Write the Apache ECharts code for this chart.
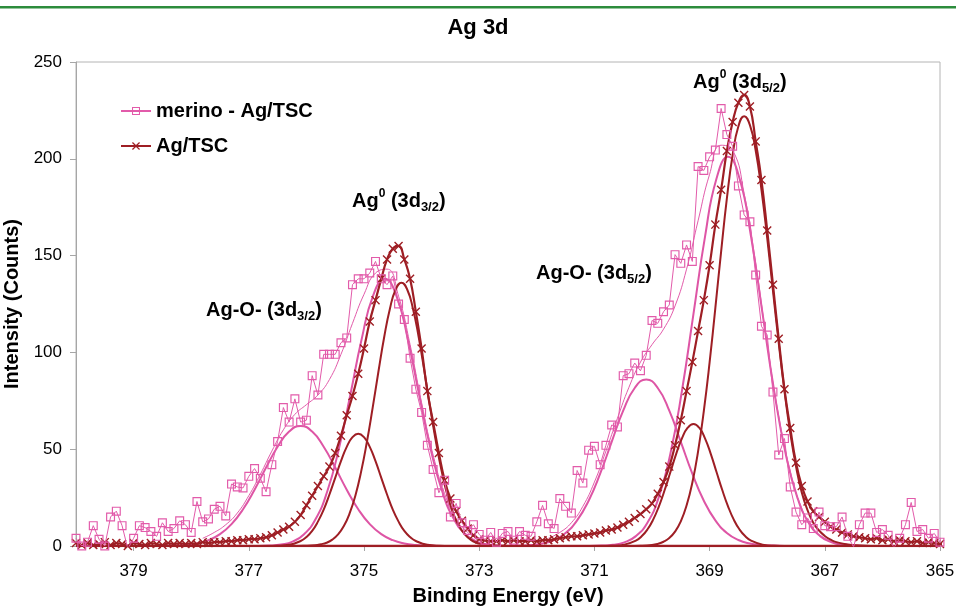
<!DOCTYPE html>
<html>
<head>
<meta charset="utf-8">
<script src="https://cdn.jsdelivr.net/npm/echarts@6/dist/echarts.min.js"></script>
<style>
  html, body { margin: 0; padding: 0; background: #ffffff; }
  #chart { width: 956px; height: 609px; }
</style>
</head>
<body>
<div id="chart"></div>
<script>
// Ag 3d XPS spectra: raw scans of two samples plus their fitted peak components.

// Binding energy grid of the raw scans (eV)
const energy = [
  380.0, 379.9, 379.8, 379.7, 379.6, 379.5, 379.4, 379.3, 379.2, 379.1,
  379.0, 378.9, 378.8, 378.7, 378.6, 378.5, 378.4, 378.3, 378.2, 378.1,
  378.0, 377.9, 377.8, 377.7, 377.6, 377.5, 377.4, 377.3, 377.2, 377.1,
  377.0, 376.9, 376.8, 376.7, 376.6, 376.5, 376.4, 376.3, 376.2, 376.1,
  376.0, 375.9, 375.8, 375.7, 375.6, 375.5, 375.4, 375.3, 375.2, 375.1,
  375.0, 374.9, 374.8, 374.7, 374.6, 374.5, 374.4, 374.3, 374.2, 374.1,
  374.0, 373.9, 373.8, 373.7, 373.6, 373.5, 373.4, 373.3, 373.2, 373.1,
  373.0, 372.9, 372.8, 372.7, 372.6, 372.5, 372.4, 372.3, 372.2, 372.1,
  372.0, 371.9, 371.8, 371.7, 371.6, 371.5, 371.4, 371.3, 371.2, 371.1,
  371.0, 370.9, 370.8, 370.7, 370.6, 370.5, 370.4, 370.3, 370.2, 370.1,
  370.0, 369.9, 369.8, 369.7, 369.6, 369.5, 369.4, 369.3, 369.2, 369.1,
  369.0, 368.9, 368.8, 368.7, 368.6, 368.5, 368.4, 368.3, 368.2, 368.1,
  368.0, 367.9, 367.8, 367.7, 367.6, 367.5, 367.4, 367.3, 367.2, 367.1,
  367.0, 366.9, 366.8, 366.7, 366.6, 366.5, 366.4, 366.3, 366.2, 366.1,
  366.0, 365.9, 365.8, 365.7, 365.6, 365.5, 365.4, 365.3, 365.2, 365.1,
  365.0, 364.9
];

// Raw counts, merino - Ag/TSC
const merinoCounts = [
  4, 0, 2, 10.5, 3.5, 0, 15, 18, 10.5, -1.5,
  4, 10.5, 9.5, 7.5, 5, 12, 7.5, 9, 13, 11,
  7, 23, 12.5, 14, 19, 20.5, 15.5, 32, 30.5, 30,
  36, 40, 35, 28, 42, 54, 71.5, 64, 76, 64,
  65, 88, 78, 99, 99, 99, 105, 107.5, 135, 138,
  138, 141, 147, 138, 135, 139.5, 125, 117, 97, 81,
  69, 52, 39.5, 27.5, 34, 15, 22, 12, 8, 11,
  6, 3, 7, 2, 6.5, 7.5, 3, 7.5, 5.5, 5,
  12.5, 21, 11.5, 9, 24.5, 20.5, 17, 39, 32.5, 49.5,
  51.5, 42, 52, 62.5, 61.5, 88, 89, 94.5, 90.5, 98.5,
  116.5, 115, 121, 124.5, 150.5, 146, 155.5, 147, 196, 194,
  201, 204.5, 226, 212.5, 206.5, 186, 171, 167.5, 140, 113.5,
  109, 79.5, 47, 55.5, 30.5, 17.5, 11, 14.5, 9, 17.5,
  10.5, 10, 10, 15, 5, -0.5, 11, 17, 17, 7,
  8.5, 5.5, -1, 4, 11, 22.5, 7.5, 8.5, 4, 6.5,
  2, 12
];

// Raw counts, Ag/TSC
const agTscCounts = [
  1.5, 0.5, 1.5, 0.5, 1, 2, 0.5, 1.5, 1, 0,
  1.5, 1, 0.5, 1.5, 1, 0.5, 1.5, 1, 1.5, 1,
  1.5, 1, 2, 1.5, 2, 2, 2.5, 2.5, 3, 3,
  3.5, 3.5, 4, 4.5, 5.5, 7, 8.5, 10, 12.5, 16,
  21, 26, 31, 36, 41, 48, 57, 67.5, 77.5, 89,
  102, 116, 127, 138, 148, 153.5, 155, 148, 138, 121,
  102, 80, 64, 48, 34, 24.5, 18, 13, 9, 5.5,
  3.5, 3, 2.5, 2.5, 3, 2.5, 3, 2.5, 2.5, 3,
  2.5, 3, 3, 3.5, 4, 4.5, 5, 5, 5.5, 6,
  6.5, 7, 8, 8.5, 9.5, 11, 12.5, 14.5, 16.5, 19,
  22, 27, 33, 41, 52, 65, 80, 95, 111, 127,
  145, 166, 184, 204, 219, 229, 233, 227, 209, 189,
  163, 135, 107, 81, 61, 43, 31, 23, 18, 15,
  12.5, 10, 8.5, 7, 6, 5, 4.5, 4, 3.5, 4,
  3, 3.5, 2.5, 3, 2.5, 2, 2.5, 1.5, 2, 1.5,
  1, 1.5
];

// Fitted components, merino - Ag/TSC  ([eV, counts])
const merinoAgO32 = [
  [378.5, 0], [378.3, 0.2], [378.1, 0.5], [377.9, 1.3], [377.7, 3], [377.5, 6.1],
  [377.3, 11.3], [377.1, 19], [376.9, 29.1], [376.7, 40.5], [376.5, 51.3], [376.3, 59.1],
  [376.1, 62], [375.9, 59.1], [375.7, 51.3], [375.5, 40.5], [375.3, 29.1], [375.1, 19],
  [374.9, 11.3], [374.7, 6.1], [374.5, 3], [374.3, 1.3], [374.1, 0.5], [373.9, 0.2], [373.7, 0]
];
const merinoAg032 = [
  [376.84, 0], [376.64, 0.2], [376.44, 0.8], [376.24, 2.3], [376.04, 6.1], [375.84, 13.9],
  [375.64, 28], [375.44, 49.7], [375.24, 77.7], [375.04, 106.9], [374.84, 129.5], [374.64, 138],
  [374.44, 129.5], [374.24, 106.9], [374.04, 77.7], [373.84, 49.7], [373.64, 28], [373.44, 13.9],
  [373.24, 6.1], [373.04, 2.3], [372.84, 0.8], [372.64, 0.2], [372.44, 0]
];
const merinoAgO52 = [
  [372.5, 0], [372.3, 0.2], [372.1, 0.5], [371.9, 1.3], [371.7, 3.1], [371.5, 6.7],
  [371.3, 13.2], [371.1, 23.4], [370.9, 37.4], [370.7, 53.8], [370.5, 69.9], [370.3, 81.6],
  [370.1, 86], [369.9, 81.6], [369.7, 69.9], [369.5, 53.8], [369.3, 37.4], [369.1, 23.4],
  [368.9, 13.2], [368.7, 6.7], [368.5, 3.1], [368.3, 1.3], [368.1, 0.5], [367.9, 0.2], [367.7, 0]
];
const merinoAg052 = [
  [371.08, 0], [370.88, 0.2], [370.68, 0.6], [370.48, 1.9], [370.28, 5.1], [370.08, 12],
  [369.88, 25.4], [369.68, 47.8], [369.48, 80.2], [369.28, 119.9], [369.08, 159.7], [368.88, 189.8],
  [368.68, 201], [368.48, 189.8], [368.28, 159.7], [368.08, 119.9], [367.88, 80.2], [367.68, 47.8],
  [367.48, 25.4], [367.28, 12], [367.08, 5.1], [366.88, 1.9], [366.68, 0.6], [366.48, 0.2], [366.28, 0]
];
const merinoEnvelope32 = [
  [377.8, 4], [377.6, 7], [377.4, 11], [377.2, 17], [377.0, 26], [376.8, 37], [376.6, 49],
  [376.4, 60], [376.2, 68], [376.0, 73], [375.8, 78], [375.6, 86], [375.4, 99], [375.2, 115],
  [375.0, 130], [374.8, 141], [374.6, 143], [374.4, 129], [374.2, 104], [374.0, 74],
  [373.8, 47], [373.6, 27], [373.4, 14], [373.2, 7], [373.0, 4], [372.8, 2.5]
];
const merinoEnvelope52 = [
  [371.8, 4], [371.6, 7], [371.4, 12], [371.2, 20.5], [371.0, 33], [370.8, 49], [370.6, 66],
  [370.4, 82], [370.2, 95], [370.0, 104], [369.8, 112], [369.6, 124], [369.4, 143], [369.2, 168],
  [369.0, 192], [368.8, 207], [368.6, 204.5], [368.4, 182], [368.2, 146], [368.0, 104],
  [367.8, 67], [367.6, 38.5], [367.4, 19.5], [367.2, 9], [367.0, 4], [366.8, 2], [366.6, 1]
];

// Fitted components, Ag/TSC  ([eV, counts])
const agTscShoulder32 = [
  [376.7, 0], [376.5, 0.1], [376.3, 0.6], [376.1, 2.6], [376.0, 4.6], [375.9, 7.8],
  [375.8, 12.6], [375.7, 18.8], [375.6, 26.6], [375.5, 35.2], [375.4, 43.8], [375.3, 51.2],
  [375.2, 56.2], [375.1, 58], [375.0, 56.2], [374.9, 51.2], [374.8, 43.8], [374.7, 35.2],
  [374.6, 26.6], [374.5, 18.8], [374.4, 12.6], [374.3, 7.8], [374.2, 4.6], [374.1, 2.6],
  [373.9, 0.6], [373.7, 0.1], [373.5, 0]
];
const agTscMain32 = [
  [376.25, 0], [376.05, 0.1], [375.85, 0.4], [375.75, 0.9], [375.65, 1.7], [375.55, 3.3],
  [375.45, 6], [375.35, 10.3], [375.25, 16.8], [375.15, 26], [375.05, 38.4], [374.95, 53.7],
  [374.85, 71.3], [374.75, 90], [374.65, 107.8], [374.55, 122.6], [374.45, 132.5], [374.35, 136],
  [374.25, 132.5], [374.15, 122.6], [374.05, 107.8], [373.95, 90], [373.85, 71.3], [373.75, 53.7],
  [373.65, 38.4], [373.55, 26], [373.45, 16.8], [373.35, 10.3], [373.25, 6], [373.15, 3.3],
  [373.05, 1.7], [372.95, 0.9], [372.85, 0.4], [372.65, 0.1], [372.45, 0]
];
const agTscShoulder52 = [
  [370.88, 0], [370.68, 0.1], [370.48, 0.7], [370.28, 2.8], [370.18, 5], [370.08, 8.5],
  [369.98, 13.6], [369.88, 20.5], [369.78, 28.9], [369.68, 38.2], [369.58, 47.6], [369.48, 55.6],
  [369.38, 61.1], [369.28, 63], [369.18, 61.1], [369.08, 55.6], [368.98, 47.6], [368.88, 38.2],
  [368.78, 28.9], [368.68, 20.5], [368.58, 13.6], [368.48, 8.5], [368.38, 5], [368.28, 2.8],
  [368.08, 0.7], [367.88, 0.1], [367.68, 0]
];
const agTscMain52 = [
  [370.4, 0], [370.2, 0.1], [370.0, 0.5], [369.9, 1.1], [369.8, 2.2], [369.7, 4.1],
  [369.6, 7.4], [369.5, 12.7], [369.4, 20.9], [369.3, 32.7], [369.2, 48.9], [369.1, 69.8],
  [369.0, 94.8], [368.9, 123], [368.8, 152.1], [368.7, 179.5], [368.6, 202], [368.5, 216.8],
  [368.4, 222], [368.3, 217.4], [368.2, 204.3], [368.1, 184.1], [368.0, 159.1], [367.9, 131.9],
  [367.8, 104.9], [367.7, 80], [367.6, 58.5], [367.5, 41.1], [367.4, 27.7], [367.3, 18.5],
  [367.2, 12], [367.1, 8], [367.0, 5.2], [366.9, 3.3], [366.8, 2], [366.6, 0.8], [366.4, 0.3], [366.2, 0]
];
const zeroLine = [[380, 0], [365, 0]];

// Axis ticks and text
const energyTicks = [365, 367, 369, 371, 373, 375, 377, 379];
const seriesNames = ['merino - Ag/TSC', 'Ag/TSC'];
const peakLabels = [
  '{m|Ag}{sup|0}{m| (3d}{sub|5/2}{m|)}',
  '{m|Ag}{sup|0}{m| (3d}{sub|3/2}{m|)}',
  '{m|Ag-O- (3d}{sub|3/2}{m|)}',
  '{m|Ag-O- (3d}{sub|5/2}{m|)}'
];

// ---- styling ----
const FONT = '"Liberation Sans", Arial, Helvetica, sans-serif';
const PINK = '#E25BAA';
const PINK_FIT = '#DE55A5';
const RED = '#9E1E24';
const AXIS_GRAY = '#A6A6A6';
const GREEN = '#2C8C3C';

const SQUARE = 'path://M0,0H10V10H0ZM1.3,1.3V8.7H8.7V1.3Z';
const CROSS = 'path://M0,1.1L1.1,0L5,3.9L8.9,0L10,1.1L6.1,5L10,8.9L8.9,10L5,6.1L1.1,10L0,8.9L3.9,5Z';

const pairs = (xs, ys) => xs.map((x, i) => [x, ys[i]]);

function fitSeries(name, data, color, width) {
  return {
    type: 'line', name: name, data: data, smooth: true, symbol: 'none',
    silent: true, z: 2,
    lineStyle: { color: color, width: width },
    itemStyle: { color: color }
  };
}

const rich = {
  m:   { fontSize: 20, fontWeight: 'bold', fontFamily: FONT, lineHeight: 26, color: '#000' },
  sup: { fontSize: 12, fontWeight: 'bold', fontFamily: FONT, lineHeight: 12, verticalAlign: 'top', color: '#000' },
  sub: { fontSize: 13, fontWeight: 'bold', fontFamily: FONT, lineHeight: 13, verticalAlign: 'bottom', color: '#000' }
};
const labelPlaces = [[693, 69], [352, 188], [206, 300], [536, 263]];

const chart = echarts.init(document.getElementById('chart'), null, { renderer: 'canvas' });

chart.setOption({
  animation: false,
  backgroundColor: '#ffffff',
  title: {
    text: 'Ag 3d', left: 'center', top: 12,
    textStyle: { fontFamily: FONT, fontSize: 22, fontWeight: 'bold', color: '#000' }
  },
  legend: {
    data: seriesNames, orient: 'vertical', left: 115, top: 96,
    itemWidth: 30, itemHeight: 10, itemGap: 15,
    textStyle: { fontFamily: FONT, fontSize: 20, fontWeight: 'bold', color: '#000' }
  },
  grid: {
    left: 76, right: 16, top: 62, bottom: 63,
    show: true, borderColor: '#B4B4B4', borderWidth: 1,
    outerBoundsMode: 'none'
  },
  xAxis: {
    type: 'value', min: 365, max: 380, inverse: true,
    name: 'Binding Energy (eV)', nameLocation: 'middle', nameGap: 40,
    nameTextStyle: { fontFamily: FONT, fontSize: 20, fontWeight: 'bold', color: '#000' },
    axisLine: { show: true, onZero: false, lineStyle: { color: AXIS_GRAY, width: 1 } },
    axisTick: { show: true, inside: false, length: 5, customValues: energyTicks, lineStyle: { color: AXIS_GRAY } },
    axisLabel: { customValues: energyTicks, margin: 17, fontFamily: FONT, fontSize: 17, color: '#000' },
    splitLine: { show: false }
  },
  yAxis: {
    type: 'value', min: 0, max: 250, interval: 50,
    name: 'Intensity (Counts)', nameLocation: 'middle', nameGap: 44,
    nameTextStyle: { fontFamily: FONT, fontSize: 20, fontWeight: 'bold', color: '#000' },
    axisLine: { show: true, lineStyle: { color: AXIS_GRAY, width: 1 } },
    axisTick: { show: true, inside: false, length: 6, lineStyle: { color: AXIS_GRAY } },
    axisLabel: { margin: 14, fontFamily: FONT, fontSize: 17, color: '#000' },
    splitLine: { show: false }
  },
  graphic: [
    { type: 'rect', shape: { x: 0, y: 6, width: 956, height: 2.5 }, style: { fill: GREEN }, silent: true }
  ].concat(peakLabels.map((t, i) => ({
    type: 'text', left: labelPlaces[i][0], top: labelPlaces[i][1], silent: true, z: 100,
    style: { text: t, rich: rich, fill: '#000' }
  }))),
  series: [
    fitSeries('Ag-O 3d3/2 (merino)', merinoAgO32, PINK_FIT, 2),
    fitSeries('Ag0 3d3/2 (merino)', merinoAg032, PINK_FIT, 2),
    fitSeries('Ag-O 3d5/2 (merino)', merinoAgO52, PINK_FIT, 2),
    fitSeries('Ag0 3d5/2 (merino)', merinoAg052, PINK_FIT, 2),
    fitSeries('envelope 3d3/2 (merino)', merinoEnvelope32, PINK, 1),
    fitSeries('envelope 3d5/2 (merino)', merinoEnvelope52, PINK, 1),
    fitSeries('shoulder 3d3/2 (Ag/TSC)', agTscShoulder32, RED, 2),
    fitSeries('Ag0 3d3/2 (Ag/TSC)', agTscMain32, RED, 2),
    fitSeries('shoulder 3d5/2 (Ag/TSC)', agTscShoulder52, RED, 2),
    fitSeries('Ag0 3d5/2 (Ag/TSC)', agTscMain52, RED, 2),
    fitSeries('zero', zeroLine, RED, 2.5),
    {
      type: 'line', name: seriesNames[0], data: pairs(energy, merinoCounts),
      smooth: false, symbol: SQUARE, symbolSize: 9, showAllSymbol: true, z: 4,
      lineStyle: { color: PINK, width: 1 },
      itemStyle: { color: PINK }
    },
    {
      type: 'line', name: seriesNames[1], data: pairs(energy, agTscCounts),
      smooth: true, symbol: CROSS, symbolSize: 9, showAllSymbol: true, z: 3,
      lineStyle: { color: RED, width: 2.2 },
      itemStyle: { color: RED }
    }
  ]
});
</script>
</body>
</html>
